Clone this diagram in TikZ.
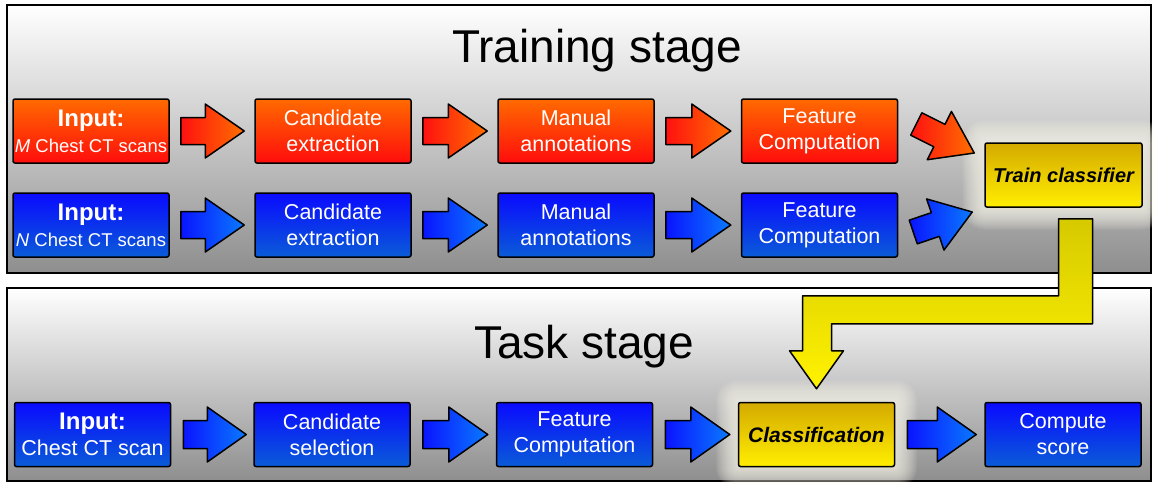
\documentclass[tikz,border=0pt]{standalone}
\usepackage{fontspec}
\setmainfont{Liberation Sans}
\usetikzlibrary{calc}
\definecolor{redtop}{HTML}{FF6A00}
\definecolor{redbot}{HTML}{FF0C0C}
\definecolor{bluetop}{HTML}{0A0AFF}
\definecolor{bluebot}{HTML}{0A5CD8}
\definecolor{goldtop}{HTML}{D4AA00}
\definecolor{goldbot}{HTML}{FFEE00}
\definecolor{ytop}{HTML}{D6CA00}
\definecolor{ybot}{HTML}{FFF200}
\definecolor{panelbot}{HTML}{8E8E8E}
\definecolor{arl}{HTML}{FF1010}
\definecolor{arr}{HTML}{FF7000}
\definecolor{abl}{HTML}{0A14FF}
\definecolor{abr}{HTML}{0A7AFF}
\definecolor{glowc}{HTML}{FFFDF0}
\pgfdeclarelayer{back}
\pgfdeclarelayer{glowl}
\pgfsetlayers{back,glowl,main}
\tikzset{
  panel/.style={draw=black, line width=2pt, top color=white, bottom color=panelbot},
  stagebox/.style={draw=black, line width=1.5pt, rounded corners=2pt,
    minimum width=156pt, minimum height=64pt, inner sep=0pt, align=center,
    text=white, font=\fontsize{21.5}{26}\selectfont},
  redbox/.style={stagebox, top color=redtop, bottom color=redbot},
  bluebox/.style={stagebox, top color=bluetop, bottom color=bluebot},
  goldbox/.style={stagebox, text=black, top color=goldtop, bottom color=goldbot,
    font=\fontsize{20}{26}\selectfont\bfseries\itshape},
  rarrow/.style={draw=black, line width=1.5pt, line join=round, left color=arl, right color=arr},
  barrow/.style={draw=black, line width=1.5pt, line join=round, left color=abl, right color=abr},
  yarrow/.style={draw=black, line width=1.5pt, line join=round, top color=ytop, bottom color=ybot},
  titletext/.style={font=\fontsize{46}{50}\selectfont, inner sep=0pt, anchor=base},
  glowfill/.style={fill=glowc, opacity=0.055}
}
\newcommand\blockarrow[5]{%
  \path (#2) coordinate (ba1) (#3) coordinate (ba2);
  \coordinate (bah) at ($(ba2)!39pt!(ba1)$);
  \draw[#1] ($(ba1)!#4!90:(ba2)$) -- ($(bah)!#4!-90:(ba1)$) -- ($(bah)!#5!-90:(ba1)$)
    -- (ba2) -- ($(bah)!#5!90:(ba1)$) -- ($(bah)!#4!90:(ba1)$) -- ($(ba1)!#4!-90:(ba2)$) -- cycle;}
\newcommand\glowaround[1]{%
  \foreach \g in {1,...,22} {
    \fill[glowfill, rounded corners=\g pt] ($(#1.north west)+(-\g,-\g)$) rectangle ($(#1.south east)+(\g,\g)$);
  }}
\begin{document}
\begin{tikzpicture}[x=1pt,y=-1pt]
\useasboundingbox (0,0) rectangle (1153,483);
\begin{pgfonlayer}{back}
  \fill[white] (0,0) rectangle (1153,483);
  \draw[panel] (7,5) rectangle (1151,273);
  \draw[panel] (7,288) rectangle (1151,481);
\end{pgfonlayer}

\node[titletext] (ttrain) at (597,62) {Training stage};
\node[titletext] (ttask) at (584,358) {Task stage};

% training row, red
\node[redbox] (ir) at (91,131) {{\fontsize{24}{26}\selectfont\bfseries Input:}\\{\fontsize{18.5}{26}\selectfont\textit{M} Chest CT scans}};
\node[redbox] (cr) at (333,131) {Candidate\\extraction};
\node[redbox] (mr) at (576,131) {Manual\\annotations};
\node[redbox] (fr) at (819.5,131) {Feature\\Computation};
% training row, blue
\node[bluebox] (ib) at (91,225) {{\fontsize{24}{26}\selectfont\bfseries Input:}\\{\fontsize{18.5}{26}\selectfont\textit{N} Chest CT scans}};
\node[bluebox] (cb) at (333,225) {Candidate\\extraction};
\node[bluebox] (mb) at (576,225) {Manual\\annotations};
\node[bluebox] (fb) at (819.5,225) {Feature\\Computation};
% classifier
\node[goldbox, minimum width=157pt] (tc) at (1063.5,175) {Train classifier};

% task row
\node[bluebox] (ti) at (92.5,434.5) {{\fontsize{24}{26}\selectfont\bfseries Input:}\\Chest CT scan};
\node[bluebox] (ts) at (332,434.5) {Candidate\\selection};
\node[bluebox] (tf) at (574.5,434.5) {Feature\\Computation};
\node[goldbox, font=\fontsize{21}{26}\selectfont\bfseries\itshape] (cl) at (816.5,434.5) {Classification};
\node[bluebox] (sc) at (1063,434.5) {Compute\\score};

\begin{pgfonlayer}{glowl}
  \glowaround{tc}
  \glowaround{cl}
\end{pgfonlayer}

% arrows training
\blockarrow{rarrow}{$(ir.east)+(11,0)$}{$(cr.west)+(-10,0)$}{13.5pt}{27pt}
\blockarrow{rarrow}{$(cr.east)+(11,0)$}{$(mr.west)+(-10,0)$}{13.5pt}{27pt}
\blockarrow{rarrow}{$(mr.east)+(11,0)$}{$(fr.west)+(-10,0)$}{13.5pt}{27pt}
\blockarrow{barrow}{$(ib.east)+(11,0)$}{$(cb.west)+(-10,0)$}{13.5pt}{27pt}
\blockarrow{barrow}{$(cb.east)+(11,0)$}{$(mb.west)+(-10,0)$}{13.5pt}{27pt}
\blockarrow{barrow}{$(mb.east)+(11,0)$}{$(fb.west)+(-10,0)$}{13.5pt}{27pt}
\blockarrow{rarrow}{$(fr.east)+(18,-7)$}{$(tc.west)+(-10,-22)$}{12.5pt}{27pt}
\blockarrow{barrow}{$(fb.east)+(15,7)$}{$(tc.west)+(-12,37)$}{12.5pt}{27pt}

% arrows task
\blockarrow{barrow}{$(ti.east)+(12,0)$}{$(ts.west)+(-7,0)$}{14pt}{27.5pt}
\blockarrow{barrow}{$(ts.east)+(12,0)$}{$(tf.west)+(-8,0)$}{14pt}{27.5pt}
\blockarrow{barrow}{$(tf.east)+(12,0)$}{$(cl.west)+(-8,0)$}{14pt}{27.5pt}
\blockarrow{barrow}{$(cl.east)+(12,0)$}{$(sc.west)+(-8,0)$}{14pt}{27.5pt}

% big yellow elbow arrow
\coordinate (ys) at ($(tc.south)+(12,11)$);
\coordinate (ye) at ($(cl.north)+(0,-13)$);
\coordinate (yb) at ($(ys)+(0,105)$);
\coordinate (yt) at ($(ys)+(0,77)$);
\coordinate (yh) at ($(ye)+(0,-38)$);
\draw[yarrow] ($(ys)+(-17,0)$) -- ($(ys)+(17,0)$) -- ($(yb)+(17,0)$)
  -- ($(ye |- yb)+(15,0)$) -- ($(yh)+(15,0)$) -- ($(yh)+(27,0)$) -- (ye)
  -- ($(yh)+(-27,0)$) -- ($(yh)+(-14,0)$) -- ($(ye |- yt)+(-14,0)$)
  -- ($(yt)+(-17,0)$) -- cycle;
\end{tikzpicture}
\end{document}
